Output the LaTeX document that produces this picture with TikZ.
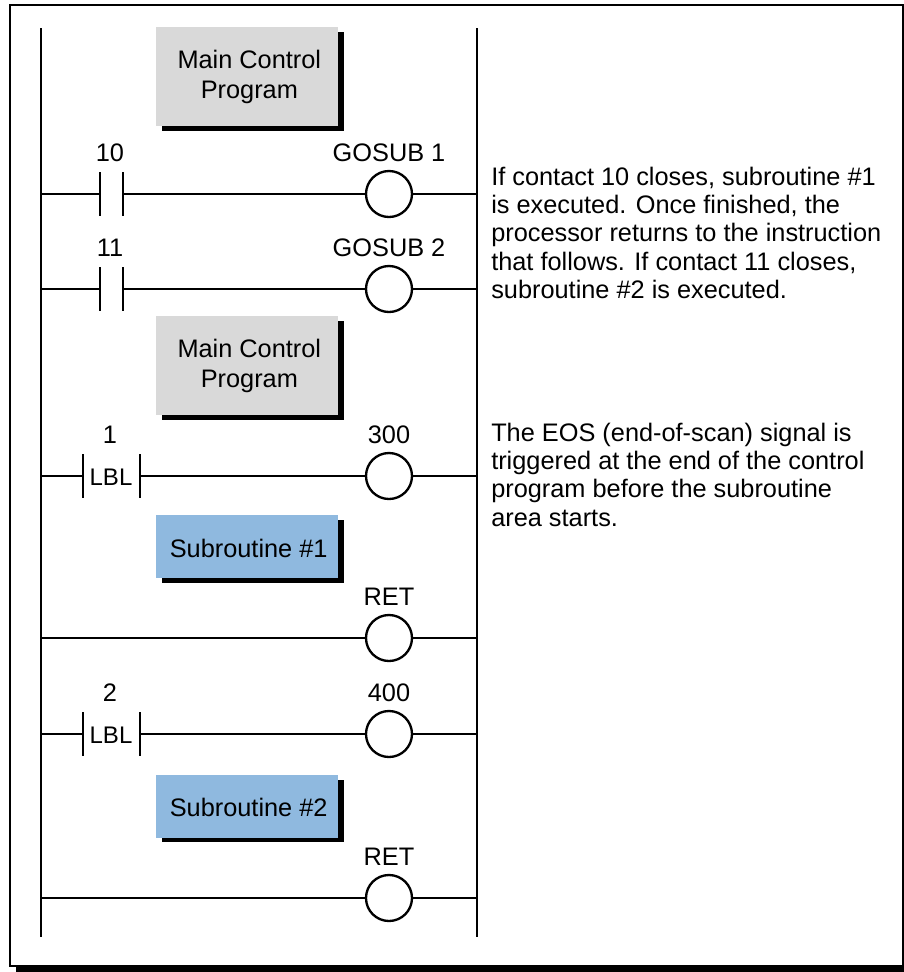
\documentclass[tikz,border=0pt]{standalone}
\usepackage{fontspec}
\setmainfont{Liberation Sans}
\usetikzlibrary{positioning, calc}
\definecolor{boxgray}{HTML}{D9D9D9}
\definecolor{boxblue}{HTML}{8FB9DF}

\begin{document}
\begin{tikzpicture}[
    x=0.75pt, y=-0.75pt,
    rail/.style={line width=2pt},
    wire/.style={line width=1.75pt},
    coil/.style={circle, draw, fill=white, line width=1.75pt, minimum size=34.5pt, inner sep=0pt},
    tag/.style={font=\fontsize{19}{19}\selectfont, inner sep=0pt},
    lbltag/.style={font=\fontsize{18}{18}\selectfont, inner sep=0pt},
    prog/.style={rectangle, fill=boxgray, minimum width=136.5pt, minimum height=74.25pt, align=center, inner sep=0pt, font=\fontsize{19}{22.5}\selectfont},
    sub/.style={prog, fill=boxblue, minimum height=47.25pt, text height=16.5pt},
    note/.style={anchor=north west, align=left, inner sep=0pt, font=\fontsize{19}{21.1}\selectfont}
]
\useasboundingbox (0,0) rectangle (904,972);
% frame
\fill[black] (16,10) rectangle (904,972);
\draw[fill=white, line width=1.75pt] (10,5) rectangle (903,966);

% rails
\coordinate (railAtop) at (41,28);
\coordinate (railAbot) at (41,937);
\coordinate (railBtop) at (477,28);
\coordinate (railBbot) at (477,937);
\draw[rail] (railAtop) -- (railAbot);
\draw[rail] (railBtop) -- (railBbot);

% program blocks
\fill[black] (162,32) rectangle (344,131);
\node[prog] (main1) at (247,76.5) {\hspace*{3.5pt}Main Control\\\hspace*{3.5pt}Program};
\fill[black] (162,321) rectangle (344,420);
\node[prog] (main2) at (247,365.5) {\hspace*{3.5pt}Main Control\\\hspace*{3.5pt}Program};
\fill[black] (162,520) rectangle (344,583);
\node[sub] (sub1) at (247,546.5) {\hspace*{2.5pt}Subroutine \#1};
\fill[black] (162,780) rectangle (344,842);
\node[sub] (sub2) at (247,806) {\hspace*{2.5pt}Subroutine \#2};

% coils
\node[coil] (coilA) at (389,194) {};
\node[coil] (coilB) at (389,289) {};
\node[coil] (coilC) at (389,476) {};
\node[coil] (coilD) at (389,638) {};
\node[coil] (coilE) at (389,734) {};
\node[coil] (coilF) at (389,898) {};

\node[tag] (lblA) at (389,153) {GOSUB 1};
\node[tag] (lblB) at (389,248) {GOSUB 2};
\node[tag] (lblC) at (389,435) {300};
\node[tag] (lblD) at (389,597) {RET};
\node[tag] (lblE) at (389,693) {400};
\node[tag] (lblF) at (389,857) {RET};

% contacts
\coordinate (leftA) at (41,194);
\coordinate (leftB) at (41,289);
\coordinate (leftC) at (41,476);
\coordinate (leftD) at (41,638);
\coordinate (leftE) at (41,734);
\coordinate (leftF) at (41,898);
\coordinate (rightA) at (477,194);
\coordinate (rightB) at (477,289);
\coordinate (rightC) at (477,476);
\coordinate (rightD) at (477,638);
\coordinate (rightE) at (477,734);
\coordinate (rightF) at (477,898);

\coordinate (cA1) at (100,194);
\coordinate (cA2) at (123,194);
\coordinate (cB1) at (100,289);
\coordinate (cB2) at (123,289);
\coordinate (cC1) at (83,476);
\coordinate (cC2) at (140,476);
\coordinate (cE1) at (83,734);
\coordinate (cE2) at (140,734);

\foreach \n in {A,B,C,E}{
    \draw[wire] (left\n) -- (c\n1);
    \draw[wire] (c\n2) -- (coil\n);
    \draw[wire] ($(c\n1)+(0,-22)$) -- ($(c\n1)+(0,22)$);
    \draw[wire] ($(c\n2)+(0,-22)$) -- ($(c\n2)+(0,22)$);
}
\draw[wire] (leftD) -- (coilD);
\draw[wire] (leftF) -- (coilF);
\foreach \n in {A,B,C,D,E,F}{
    \draw[wire] (coil\n) -- (right\n);
}

\node[tag] (numA) at (110,153) {10};
\node[tag] (numB) at (110,248) {11};
\node[tag] (numC) at (110,435) {1};
\node[tag] (numE) at (110,693) {2};
\node[lbltag] (lblLA) at (111,477) {LBL};
\node[lbltag] (lblLB) at (111,735) {LBL};

% notes
\node[note] (noteA) at (491,167) {If contact 10 closes, subroutine \#1\\is executed. Once finished, the\\processor returns to the instruction\\that follows. If contact 11 closes,\\subroutine \#2 is executed.};
\node[note] (noteB) at (491,423) {The EOS (end-of-scan) signal is\\triggered at the end of the control\\program before the subroutine\\area starts.};
\end{tikzpicture}
\end{document}
